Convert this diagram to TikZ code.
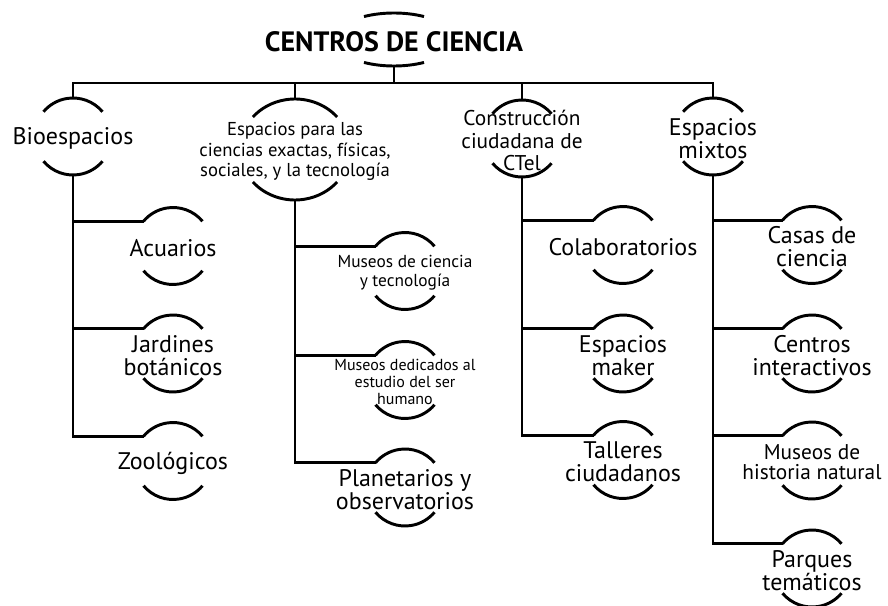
\documentclass[tikz,border=0pt]{standalone}
\usepackage{fontspec}
\setmainfont{PT Sans}
\usetikzlibrary{shapes.geometric,positioning}
\tikzset{
  ring-style/.style = {
    ellipse, inner sep=0pt, outer sep=0pt
  },
  arc-style/.style = {
    draw, line width=2.2pt
  },
  link-style/.style = {
    draw, line width=2.2pt
  },
  label-style/.style = {
    align=center, inner sep=0pt, text=black, yshift=-1.5pt
  },
  root-text/.style = {font=\fontsize{21}{22}\selectfont\bfseries},
  big-text/.style = {font=\fontsize{18}{17.3}\selectfont},
  ctei-text/.style = {font=\fontsize{16}{17}\selectfont},
  hist-text/.style = {font=\fontsize{16}{15}\selectfont},
  exact-text/.style = {font=\fontsize{14}{15.5}\selectfont},
  mid-text/.style = {font=\fontsize{13}{14.3}\selectfont},
  small-text/.style = {font=\fontsize{12}{12.8}\selectfont}
}
\def\createHub name:#1 at:#2 radius:#3/#4 span:#5 font:#6 text:#7;{
  \node [ring-style, minimum width={1.5pt*#3}, minimum height={1.5pt*#4}] (#1) at (#2) {};
  \node [label-style, #6] (#1-text) at (#1.center) {#7};
  \draw [arc-style] ([shift={(#5:#3 and #4)}]#1.center)
        arc [start angle=#5, end angle=180-#5, x radius=#3, y radius=#4];
  \draw [arc-style] ([shift={(180+#5:#3 and #4)}]#1.center)
        arc [start angle=180+#5, end angle=360-#5, x radius=#3, y radius=#4];
}
\newcommand\createLeaf[4]{
  \createHub name:#1 at:#2 radius:38.5/38.5 span:40 font:#3 text:{#4};
}
\begin{document}
\begin{tikzpicture}[x=0.75pt, y=0.75pt]
    \useasboundingbox (0,0) rectangle (888,-606);

    \createHub name:root at:394,-39.5 radius:60/26.5 span:60 font:root-text text:{CENTROS DE CIENCIA};

    \createHub name:bio at:73,-136.5 radius:38.5/38.5 span:40 font:big-text text:{Bioespacios};
    \createHub name:exact at:295,-149.5 radius:55/50.5 span:40 font:exact-text
      text:{Espacios para las\\ciencias exactas, físicas,\\sociales, y la tecnología};
    \createHub name:ctei at:522,-138.5 radius:38.5/38.5 span:40 font:ctei-text
      text:{Construcción\\ciudadana de\\CTel};
    \createHub name:mixed at:713,-136.5 radius:39/38.5 span:40 font:big-text text:{Espacios\\mixtos};

    \createLeaf{acuarios}{173,-246}{big-text}{Acuarios}
    \createLeaf{jardines}{173,-353.5}{big-text}{Jardines\\botánicos}
    \createLeaf{zoo}{173,-461}{big-text}{Zoológicos}

    \createLeaf{mciencia}{405,-271}{mid-text}{Museos de ciencia\\y tecnología}
    \createLeaf{mhumano}{405,-380}{small-text}{Museos dedicados al\\estudio del ser\\humano}
    \createLeaf{planetarios}{405,-487.5}{big-text}{Planetarios y\\observatorios}

    \createLeaf{colab}{623,-245}{big-text}{Colaboratorios}
    \createLeaf{maker}{623,-353.5}{big-text}{Espacios\\maker}
    \createLeaf{talleres}{623,-460}{big-text}{Talleres\\ciudadanos}

    \createLeaf{casas}{812,-245}{big-text}{Casas de\\ciencia}
    \createLeaf{interactivos}{812,-353.5}{big-text}{Centros\\interactivos}
    \createLeaf{mhistoria}{812,-460.5}{hist-text}{Museos de\\historia natural}
    \createLeaf{parques}{812,-568.5}{big-text}{Parques\\temáticos}

    % bus under the root
    \coordinate (bus) at (0,-83);
    \path[link-style] (root.south) -- (root.south |- bus);
    \path[link-style] (bio.north) -- (bio.north |- bus) -- (mixed.north |- bus) -- (mixed.north);
    \path[link-style] (exact.north) -- (exact.north |- bus);
    \path[link-style] (ctei.north) -- (ctei.north |- bus);

    \foreach \leaf in {acuarios,jardines,zoo}
      \path[link-style] (bio.south) |- (\leaf.140);
    \foreach \leaf in {mciencia,mhumano,planetarios}
      \path[link-style] (exact.south) |- (\leaf.140);
    \foreach \leaf in {colab,maker,talleres}
      \path[link-style] (ctei.south) |- (\leaf.140);
    \foreach \leaf in {casas,interactivos,mhistoria,parques}
      \path[link-style] (mixed.south) |- (\leaf.140);
\end{tikzpicture}
\end{document}
